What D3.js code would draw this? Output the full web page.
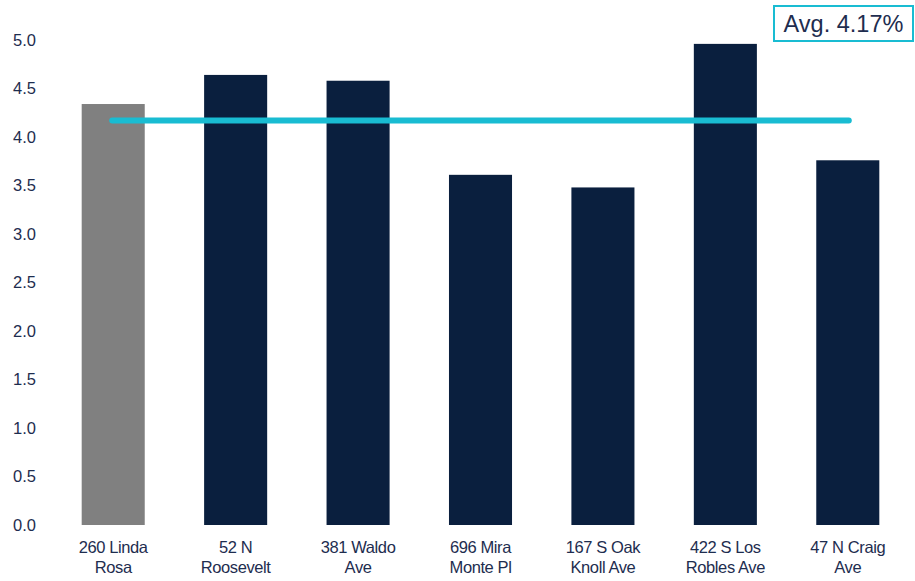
<!DOCTYPE html>
<html>
<head>
<meta charset="utf-8">
<script src="https://cdn.jsdelivr.net/npm/d3@7"></script>
<style>
  body { margin: 0; background: #fff; }
  svg { display: block; font-family: 'Liberation Sans', Arial, sans-serif; }
</style>
</head>
<body>
<svg id="chart" width="915" height="581"></svg>
<script>
let categories = [
  ['260 Linda', 'Rosa'],
  ['52 N', 'Roosevelt'],
  ['381 Waldo', 'Ave'],
  ['696 Mira', 'Monte Pl'],
  ['167 S Oak', 'Knoll Ave'],
  ['422 S Los', 'Robles Ave'],
  ['47 N Craig', 'Ave']
]
let values = [4.34, 4.64, 4.58, 3.61, 3.48, 4.96, 3.76]
let average = 4.17
let yTicks = [0, 0.5, 1, 1.5, 2, 2.5, 3, 3.5, 4, 4.5, 5]

let svg = d3.select('#chart')
let textColor = '#1e2d4f'

let x = d3.scaleBand().domain(d3.range(categories.length)).range([52, 909])
  .paddingInner(0.485).paddingOuter(0.2425)
let y = d3.scaleLinear().domain([0, 5]).range([525, 40])

// y axis labels only
let yAxis = d3.axisLeft(y).tickValues(yTicks).tickSize(0).tickPadding(0).tickFormat(d3.format('.1f'))
let gy = svg.append('g').attr('transform', 'translate(36,0)').call(yAxis)
gy.select('.domain').remove()
gy.selectAll('text').attr('font-size', '16.5px').attr('fill', textColor)
  .attr('font-family', 'Liberation Sans, Arial, sans-serif')

// bars
svg.append('g').selectAll('rect')
  .data(values)
  .enter().append('rect')
  .attr('x', (d, i) => x(i))
  .attr('width', x.bandwidth())
  .attr('y', d => y(d))
  .attr('height', d => y(0) - y(d))
  .attr('fill', (d, i) => i === 0 ? '#808080' : '#0a1f3e')

// category labels
let lbl = svg.append('g').selectAll('text')
  .data(categories)
  .enter().append('text')
  .attr('text-anchor', 'middle')
  .attr('font-size', '16.5px')
  .attr('fill', textColor)
  .attr('letter-spacing', '-0.4px')
lbl.each(function (d, i) {
  let t = d3.select(this)
  d.forEach((line, j) => {
    t.append('tspan')
      .attr('x', x(i) + x.bandwidth() / 2)
      .attr('y', 553 + j * 20)
      .text(line)
  })
})

// average line
let cx0 = x(0) + x.bandwidth() / 2
let cx1 = x(categories.length - 1) + x.bandwidth() / 2
svg.append('line')
  .attr('x1', cx0 - 1).attr('x2', cx1 + 1)
  .attr('y1', y(average)).attr('y2', y(average))
  .attr('stroke', '#19bcd2')
  .attr('stroke-width', 6)
  .attr('stroke-linecap', 'round')

// average box
svg.append('rect')
  .attr('x', 774).attr('y', 6)
  .attr('width', 139).attr('height', 35)
  .attr('fill', '#fff')
  .attr('stroke', '#19bcd2')
  .attr('stroke-width', 2)
svg.append('text')
  .attr('x', 843.5).attr('y', 32)
  .attr('text-anchor', 'middle')
  .attr('font-size', '23.5px')
  .attr('fill', textColor)
  .text('Avg. ' + average.toFixed(2) + '%')
</script>
</body>
</html>
